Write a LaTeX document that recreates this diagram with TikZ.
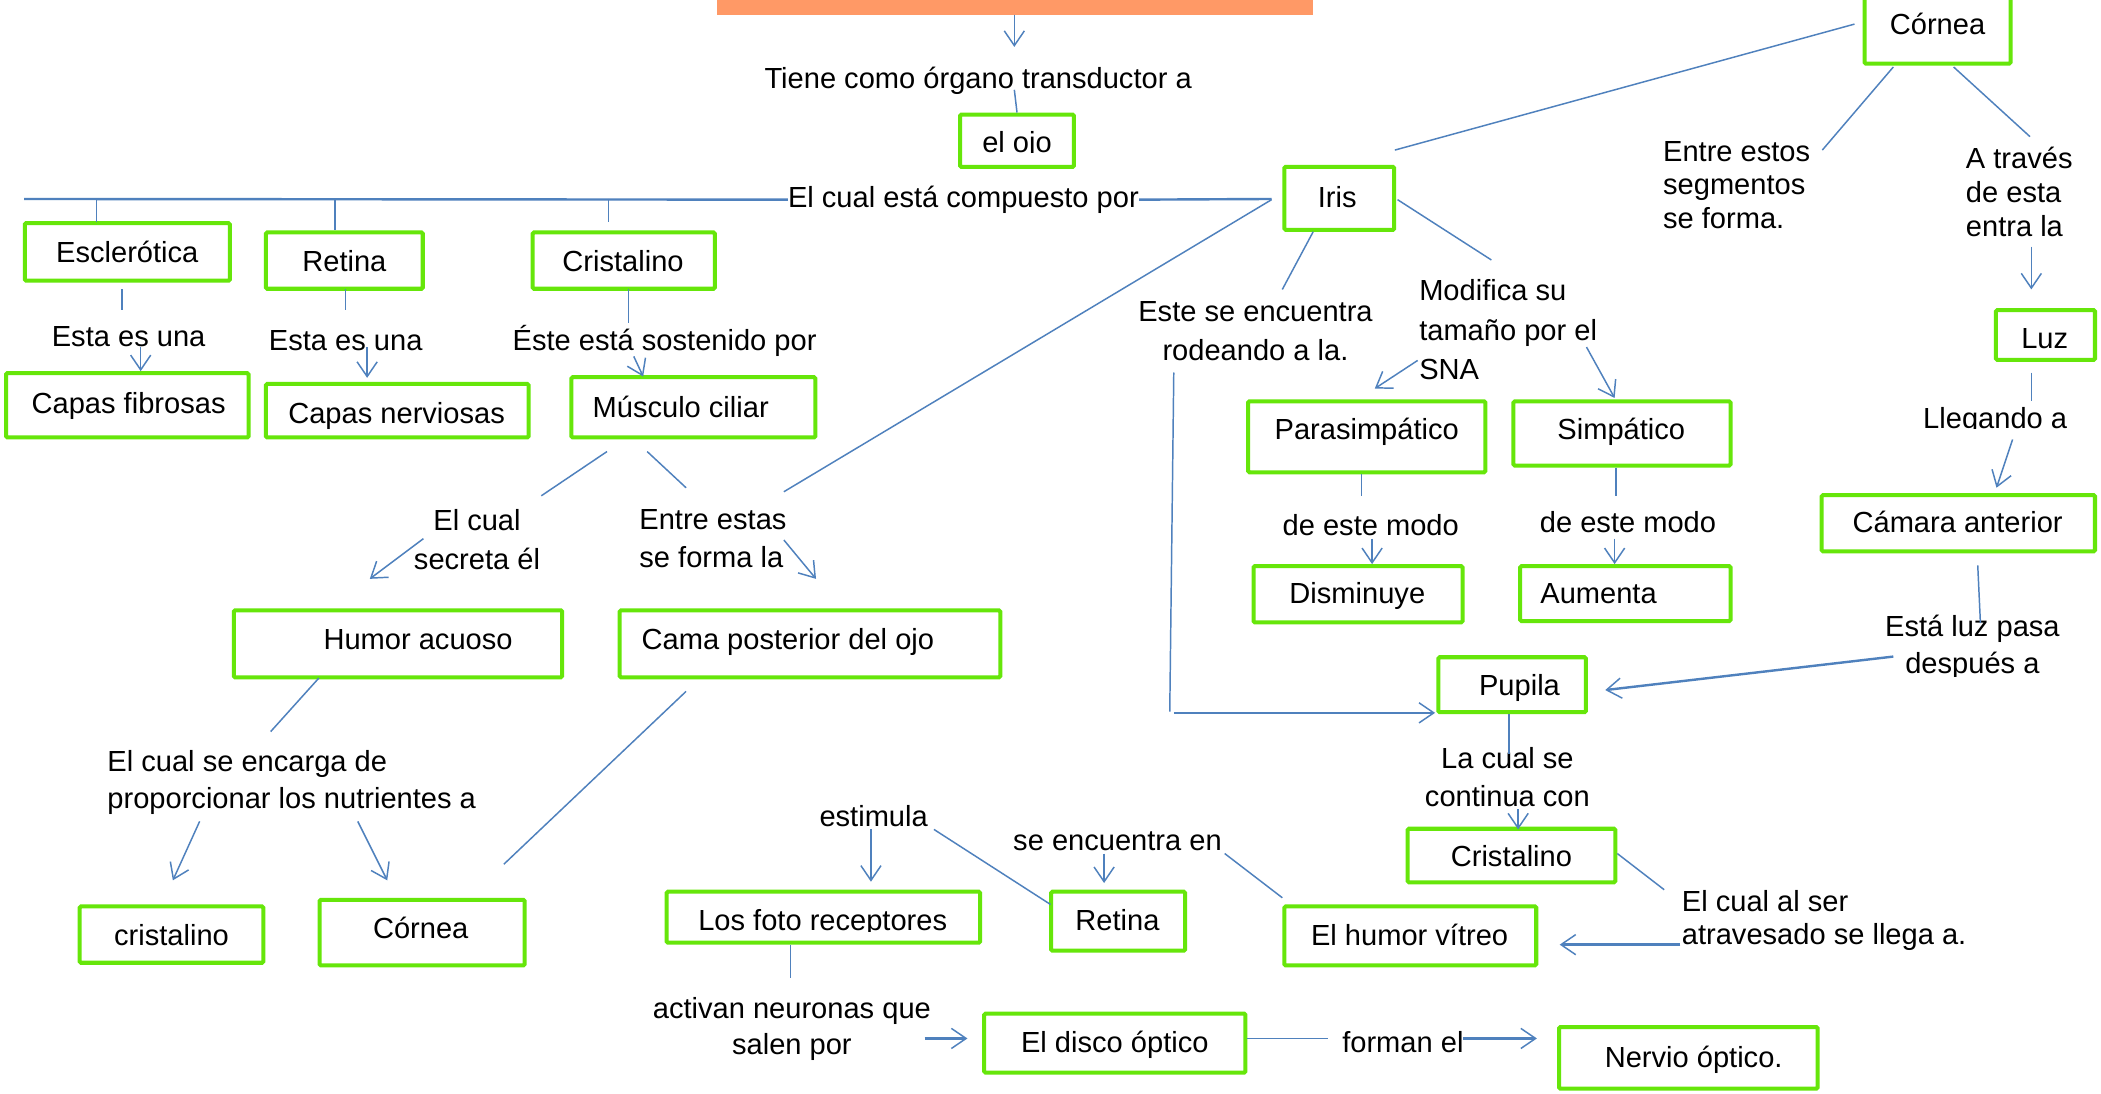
\documentclass[tikz,border=0pt]{standalone}
\usepackage{fontspec}
\setmainfont{Liberation Sans}
\usetikzlibrary{arrows.meta}
\definecolor{boxgreen}{RGB}{102,230,10}
\definecolor{linkblue}{RGB}{79,129,189}
\definecolor{titleorange}{RGB}{255,153,102}
\tikzset{
  box/.style={draw=boxgreen, line width=3pt, rounded corners=1pt, inner sep=0pt, fill=white},
  con/.style={draw=linkblue, line width=1.1pt},
  thk/.style={draw=linkblue, line width=1.8pt},
  arr/.style={-{Straight Barb[length=11pt,width=15pt,line width=1.1pt]}},
  txt/.style={font=\fontsize{21.7}{29}\selectfont, inner sep=0pt, text height=16pt, text depth=4.5pt, yshift=-2pt},
  ml/.style={font=\fontsize{21.7}{29}\selectfont, inner sep=0pt, align=center, yshift=-1pt},
  mll/.style={font=\fontsize{21.7}{#1}\selectfont, inner sep=0pt, align=left, anchor=west, yshift=-1pt},
}
\begin{document}
\begin{tikzpicture}[x=1pt,y=-1pt]
\useasboundingbox (0,0) rectangle (1568,816);
\clip (0,0) rectangle (1568,816);
\fill[white] (0,0) rectangle (1568,816);

% title box (cut off)
\fill[titleorange] (535,-10) rectangle (980,11);
\coordinate (title) at (757,11);

% ---------- boxes ----------
\node[box, minimum width=85,  minimum height=39] (ojo)  at (759,105) {};
\node[box, minimum width=153, minimum height=43] (esc)  at (95,188) {};
\node[box, minimum width=117, minimum height=42] (ret1) at (257,194.5) {};
\node[box, minimum width=136, minimum height=42] (cri1) at (465.5,194.5) {};
\node[box, minimum width=181, minimum height=48] (fib)  at (95,302.5) {};
\node[box, minimum width=196, minimum height=40] (ner)  at (296.5,306.5) {};
\node[box, minimum width=182, minimum height=45] (mus)  at (517.5,304) {};
\node[box, minimum width=82,  minimum height=47] (iris) at (999.5,148) {};
\node[box, minimum width=109, minimum height=51] (cor1) at (1446,22) {};
\node[box, minimum width=74,  minimum height=37] (luz)  at (1526.5,250) {};
\node[box, minimum width=204, minimum height=42] (cam)  at (1461.5,390.5) {};
\node[box, minimum width=177, minimum height=53] (para) at (1020,326) {};
\node[box, minimum width=162, minimum height=48] (simp) at (1210.5,323.5) {};
\node[box, minimum width=156, minimum height=42] (dis)  at (1013.5,443.5) {};
\node[box, minimum width=157, minimum height=41] (aum)  at (1213,443) {};
\node[box, minimum width=110, minimum height=41] (pup)  at (1128.5,511) {};
\node[box, minimum width=155, minimum height=40] (cri2) at (1128,638.5) {};
\node[box, minimum width=188, minimum height=44] (vit)  at (1052.5,698.5) {};
\node[box, minimum width=100, minimum height=44] (ret2) at (834.5,687.5) {};
\node[box, minimum width=234, minimum height=38] (foto) at (614.5,684.5) {};
\node[box, minimum width=195, minimum height=44] (disco) at (832,778.5) {};
\node[box, minimum width=193, minimum height=46] (nerv) at (1260,789.5) {};
\node[box, minimum width=245, minimum height=50] (hum)  at (297,480.5) {};
\node[box, minimum width=284, minimum height=50] (cama) at (604.5,480.5) {};
\node[box, minimum width=137, minimum height=42] (cri3) at (128,697.5) {};
\node[box, minimum width=153, minimum height=49] (cor2) at (315,696) {};

% ---------- box texts ----------
\begin{scope}
\clip (700,80) rectangle (820,114);
\node[txt] (tojo) at (759,106) {el ojo};
\end{scope}
\node[txt] (tesc) at (95,188) {Esclerótica};
\node[txt] (tret1) at (257,195) {Retina};
\node[txt] (tcri1) at (465,195) {Cristalino};
\node[txt] (tfib) at (96,301) {Capas fibrosas};
\node[txt] (tner) at (296,308) {Capas nerviosas};
\node[txt] (tmus) at (508,304) {Músculo ciliar};
\node[txt] (tiris) at (998,147) {Iris};
\node[txt] (tcor1) at (1446,18) {Córnea};
\node[txt] (tluz) at (1526,252) {Luz};
\node[txt] (tcam) at (1461,390) {Cámara anterior};
\node[txt] (tpara) at (1020,320) {Parasimpático};
\node[txt] (tsimp) at (1210,320) {Simpático};
\node[txt] (tdis) at (1013,443) {Disminuye};
\node[txt] (taum) at (1193,443) {Aumenta};
\node[txt] (tpup) at (1134,511) {Pupila};
\node[txt] (tcri2) at (1128,639) {Cristalino};
\node[txt] (tvit) at (1052,698) {El humor vítreo};
\node[txt] (tret2) at (834,687) {Retina};
\begin{scope}
\clip (500,660) rectangle (730,695);
\node[txt] (tfoto) at (614,687) {Los foto receptores};
\end{scope}
\node[txt] (tdisco) at (832,778) {El disco óptico};
\node[txt] (tnerv) at (1264,789) {Nervio óptico.};
\node[txt] (thum) at (312,477) {Humor acuoso};
\node[txt] (tcama) at (588,477) {Cama posterior del ojo};
\node[txt] (tcri3) at (128,698) {cristalino};
\node[txt] (tcor2) at (314,693) {Córnea};

% ---------- link labels ----------
\node[txt] (ltiene) at (730,58) {Tiene como órgano transductor a};
\node[txt] (lcomp) at (719,147) {El cual está compuesto por};
\node[txt] (lesta1) at (96,251) {Esta es una};
\node[txt] (lesta2) at (258,254) {Esta es una};
\node[txt] (leste) at (496,254) {Éste está sostenido por};
\begin{scope}
\clip (1400,290) rectangle (1568,320);
\node[txt] (lllega) at (1489,312) {Llegando a};
\end{scope}
\node[txt] (lmodo1) at (1023,392) {de este modo};
\node[txt] (lmodo2) at (1215,390) {de este modo};
\node[txt] (lencu) at (834,627) {se encuentra en};
\node[txt] (lestim) at (652,609) {estimula};
\node[txt] (lforman) at (1047,778) {forman el};

\node[mll=25] (lentre) at (1241,137) {Entre estos\\segmentos\\se forma.};
\node[mll=25.5] (ltraves) at (1467,142) {A través\\de esta\\entra la};
\node[ml] (lrode) at (937,246) {Este se encuentra\\rodeando a la.};
\node[mll=29.5] (lmodif) at (1059,245) {Modifica su\\tamaño por el\\SNA};
\begin{scope}
\clip (1380,440) rectangle (1568,505);
\node[ml, font=\fontsize{21.7}{28}\selectfont] (lpasa) at (1472,482) {Está luz pasa\\después a};
\end{scope}
\node[ml] (lcontin) at (1125,579) {La cual se\\continua con};
\node[mll=24] (latrav) at (1255,686) {El cual al ser\\atravesado se llega a.};
\node[ml] (lsecreta) at (356,402) {El cual\\secreta él};
\node[mll=29] (lestas) at (477,401) {Entre estas\\se forma la};
\node[mll=28] (lencarga) at (80,583) {El cual se encarga de\\proporcionar los nutrientes a};
\node[ml, font=\fontsize{21.7}{27}\selectfont] (lactivan) at (591,767) {activan neuronas que\\salen por};

% ---------- connectors ----------
\draw[con,arr] (title) -- (757,35);
\draw[con] (757,67) -- (ojo.north);
\draw[thk] (18,148.5) -- (lcomp.west);
\draw[thk] (lcomp.east) -- (949,148.5);
\draw[con] (72,148.5) -- (72,166);
\draw[con] (250,148.5) -- (250,172);
\draw[con] (454,148.5) -- (454,166);
\draw[con] (91,216) -- (91,231);
\draw[con] (258,216) -- (258,231);
\draw[con] (469,216) -- (469,241);
\draw[con,arr] (105,259) -- (105,277);
\draw[con,arr] (274,259) -- (274,282);
\draw[con,arr] (473,266) -- (480,281);
\draw[con] (949,149) -- (585,367);
\draw[con] (453,337) -- (404,370);
\draw[con] (483,337) -- (512,364);
\draw[con,arr] (316,402) -- (276,432);
\draw[con,arr] (585,403) -- (609,432);
\draw[con] (238,506) -- (202,546);
\draw[con,arr] (149,613) -- (129,657);
\draw[con,arr] (267,613) -- (289,657);
\draw[con] (512,516) -- (376,645);

\draw[con] (1384,18) -- (1041,112);
\draw[con] (1413,50) -- (1360,112);
\draw[con] (1458,50) -- (1515,102);
\draw[con,arr] (1516,184) -- (1516,216);
\draw[con] (1516,278) -- (1516,299);
\draw[con,arr] (1502,328) -- (1490,364);
\draw[con] (1476,422) -- (1478,465);
\draw[thk,arr] (1413,490) -- (1198,515);

\draw[con] (980,173) -- (957,216);
\draw[con] (1043,149) -- (1113,194);
\draw[con,arr] (1058,269) -- (1026,290);
\draw[con,arr] (1184,259) -- (1205,297);
\draw[con] (1016,354) -- (1016,370);
\draw[con] (1206,349) -- (1206,370);
\draw[con,arr] (1024,402) -- (1024,421);
\draw[con,arr] (1205,402) -- (1205,421);
\draw[con] (876,278) -- (873,531);
\draw[thk,arr] (876,532) -- (1071,532);
\draw[con] (1126,533) -- (1126,563);
\draw[con,arr] (1133,604) -- (1133,619);
\draw[con] (1207,637) -- (1242,664);
\draw[thk,arr] (1254,705) -- (1164,705);
\draw[con] (957,670) -- (914,637);
\draw[con,arr] (824,637) -- (824,659);
\draw[con] (697,619) -- (784,675);
\draw[con,arr] (650,619) -- (650,658);
\draw[con] (590,705) -- (590,730);
\draw[thk,arr] (690,775) -- (722,775);
\draw[con] (931,775) -- (991,775);
\draw[thk,arr] (1092,775) -- (1147,775);
\end{tikzpicture}
\end{document}
